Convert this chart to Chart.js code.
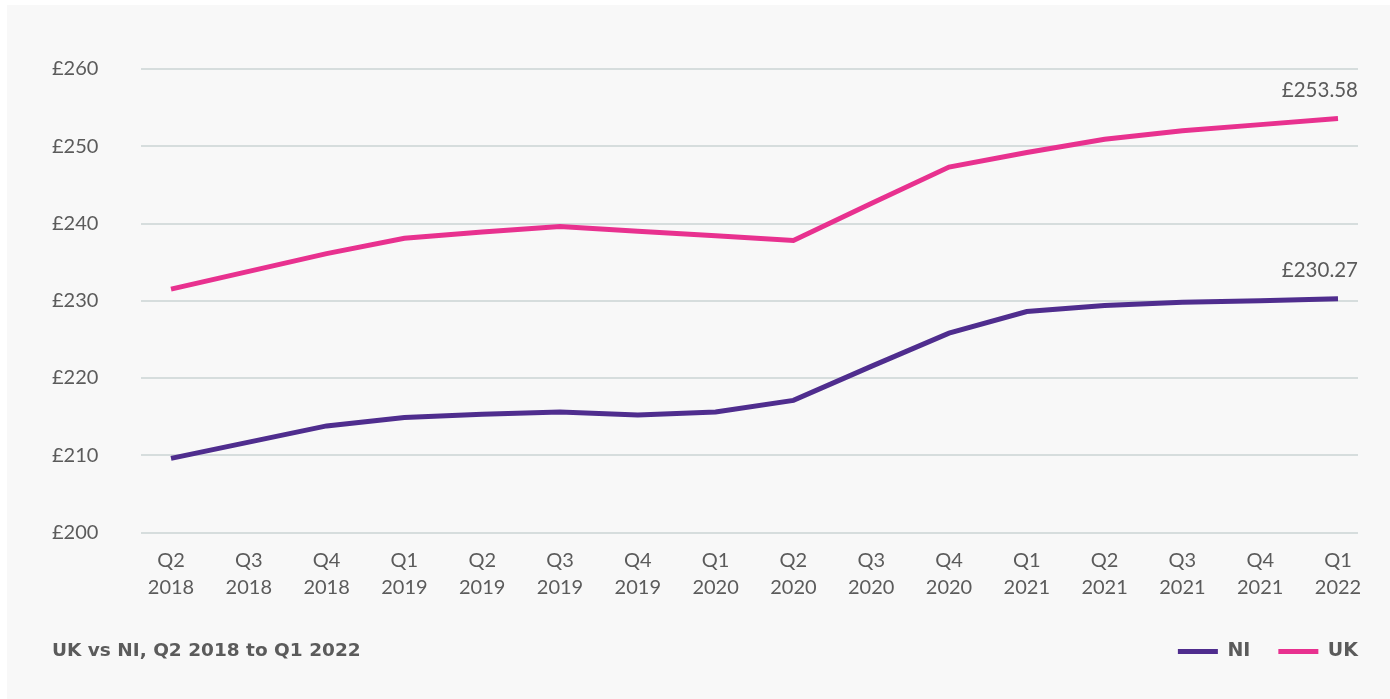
<!DOCTYPE html>
<html>
<head>
<meta charset="utf-8">
<script src="https://cdn.jsdelivr.net/npm/chart.js@4.4.0/dist/chart.umd.min.js"></script>
<style>
  html, body { margin: 0; padding: 0; background: #fff; }
  #wrap { width: 1390px; height: 699px; }
</style>
</head>
<body>
<div id="wrap"><canvas id="myChart"></canvas></div>
<script>
// data
const quarters = ['Q2', 'Q3', 'Q4', 'Q1', 'Q2', 'Q3', 'Q4', 'Q1', 'Q2', 'Q3', 'Q4', 'Q1', 'Q2', 'Q3', 'Q4', 'Q1'];
const years = ['2018', '2018', '2018', '2019', '2019', '2019', '2019', '2020', '2020', '2020', '2020', '2021', '2021', '2021', '2021', '2022'];
const niValues = [209.6, 211.7, 213.8, 214.9, 215.3, 215.6, 215.2, 215.6, 217.1, 221.5, 225.8, 228.6, 229.4, 229.8, 230.0, 230.27];
const ukValues = [231.5, 233.8, 236.1, 238.1, 238.9, 239.6, 239.0, 238.4, 237.8, 242.6, 247.3, 249.2, 250.9, 252.0, 252.8, 253.58];
const yTicks = [200, 210, 220, 230, 240, 250, 260];
const caption = 'UK vs NI, Q2 2018 to Q1 2022';

const textGrey = '#5b5b5b';
const niColour = '#4f2d8e';
const ukColour = '#e8318f';
const boldFont = '"DejaVu Sans", Lato, sans-serif';

Chart.defaults.font.family = 'Lato, "Open Sans", sans-serif';
Chart.defaults.font.size = 20;
Chart.defaults.color = textGrey;

//light panel behind everything
const panelBg = {
    id: 'panelBg',
    beforeDraw(chart) {
        const c = chart.ctx;
        c.save();
        c.fillStyle = '#f8f8f8';
        c.fillRect(7, 5, chart.width - 7, chart.height - 5);
        c.restore();
    }
};

//gridlines run past the data on both sides
const wideGrid = {
    id: 'wideGrid',
    beforeDatasetsDraw(chart) {
        const c = chart.ctx;
        const area = chart.chartArea;
        const y = chart.scales.y;
        c.save();
        c.strokeStyle = '#d6dddd';
        c.lineWidth = 2;
        y.ticks.forEach(t => {
            const py = Math.round(y.getPixelForValue(t.value));
            c.beginPath();
            c.moveTo(area.left - 30, py);
            c.lineTo(area.right + 20, py);
            c.stroke();
        });
        c.restore();
    }
};

//value label above the last point of each line
const endLabels = {
    id: 'endLabels',
    afterDatasetsDraw(chart) {
        const c = chart.ctx;
        c.save();
        c.font = '20.5px Lato, "Open Sans", sans-serif';
        c.fillStyle = textGrey;
        c.textAlign = 'right';
        c.textBaseline = 'middle';
        chart.data.datasets.forEach((ds, i) => {
            const pts = chart.getDatasetMeta(i).data;
            const last = pts[pts.length - 1];
            const val = ds.data[ds.data.length - 1];
            c.fillText('£' + val.toFixed(2), chart.chartArea.right + 20, last.y - 28);
        });
        c.restore();
    }
};

//caption on the same row as the legend
const captionText = {
    id: 'captionText',
    afterDraw(chart) {
        const boxes = chart.legend.legendHitBoxes;
        if (!boxes || !boxes.length) return;
        const c = chart.ctx;
        c.save();
        c.font = 'bold 18.5px ' + boldFont;
        c.fillStyle = textGrey;
        c.textAlign = 'left';
        c.textBaseline = 'middle';
        c.fillText(caption, 52, boxes[0].top + boxes[0].height / 2);
        c.restore();
    }
};

const ctx = document.getElementById('myChart').getContext('2d');
const myChart = new Chart(ctx, {
    type: 'line',
    data: {
        labels: quarters.map((q, i) => [q, years[i]]),
        datasets: [
            {
                label: 'NI',
                data: niValues,
                borderColor: niColour,
                backgroundColor: niColour,
                borderWidth: 5,
                pointRadius: 0,
                tension: 0
            },
            {
                label: 'UK',
                data: ukValues,
                borderColor: ukColour,
                backgroundColor: ukColour,
                borderWidth: 5,
                pointRadius: 0,
                tension: 0
            }
        ]
    },
    options: {
        responsive: true,
        maintainAspectRatio: false,
        animation: false,
        layout: {
            padding: { left: 52, right: 4, top: 69, bottom: 28 }
        },
        scales: {
            x: {
                offset: false,
                grid: { display: false },
                border: { display: false },
                ticks: {
                    padding: 7,
                    maxRotation: 0,
                    autoSkip: false,
                    font: { size: 20, lineHeight: 1.35 }
                },
                afterFit(scale) {
                    scale.height = 81.5;
                }
            },
            y: {
                min: 200,
                max: 260,
                afterBuildTicks(scale) {
                    scale.ticks = yTicks.map(v => ({ value: v }));
                },
                grid: { display: false },
                border: { display: false },
                ticks: {
                    crossAlign: 'far',
                    callback: v => '£' + v
                },
                afterFit(scale) {
                    scale.width = 119;
                }
            },
            y2: {
                position: 'right',
                display: true,
                grid: { display: false },
                border: { display: false },
                ticks: { display: false },
                afterFit(scale) {
                    scale.width = 48;
                }
            }
        },
        plugins: {
            legend: {
                position: 'bottom',
                align: 'end',
                labels: {
                    boxWidth: 40,
                    boxHeight: 5,
                    padding: 28,
                    font: { size: 19, weight: 'bold', family: boldFont },
                    generateLabels(chart) {
                        return Chart.defaults.plugins.legend.labels.generateLabels(chart)
                            .map(l => Object.assign(l, { lineWidth: 0, fillStyle: l.strokeStyle }));
                    }
                }
            },
            tooltip: { enabled: false }
        }
    },
    plugins: [panelBg, wideGrid, endLabels, captionText]
});
</script>
</body>
</html>
